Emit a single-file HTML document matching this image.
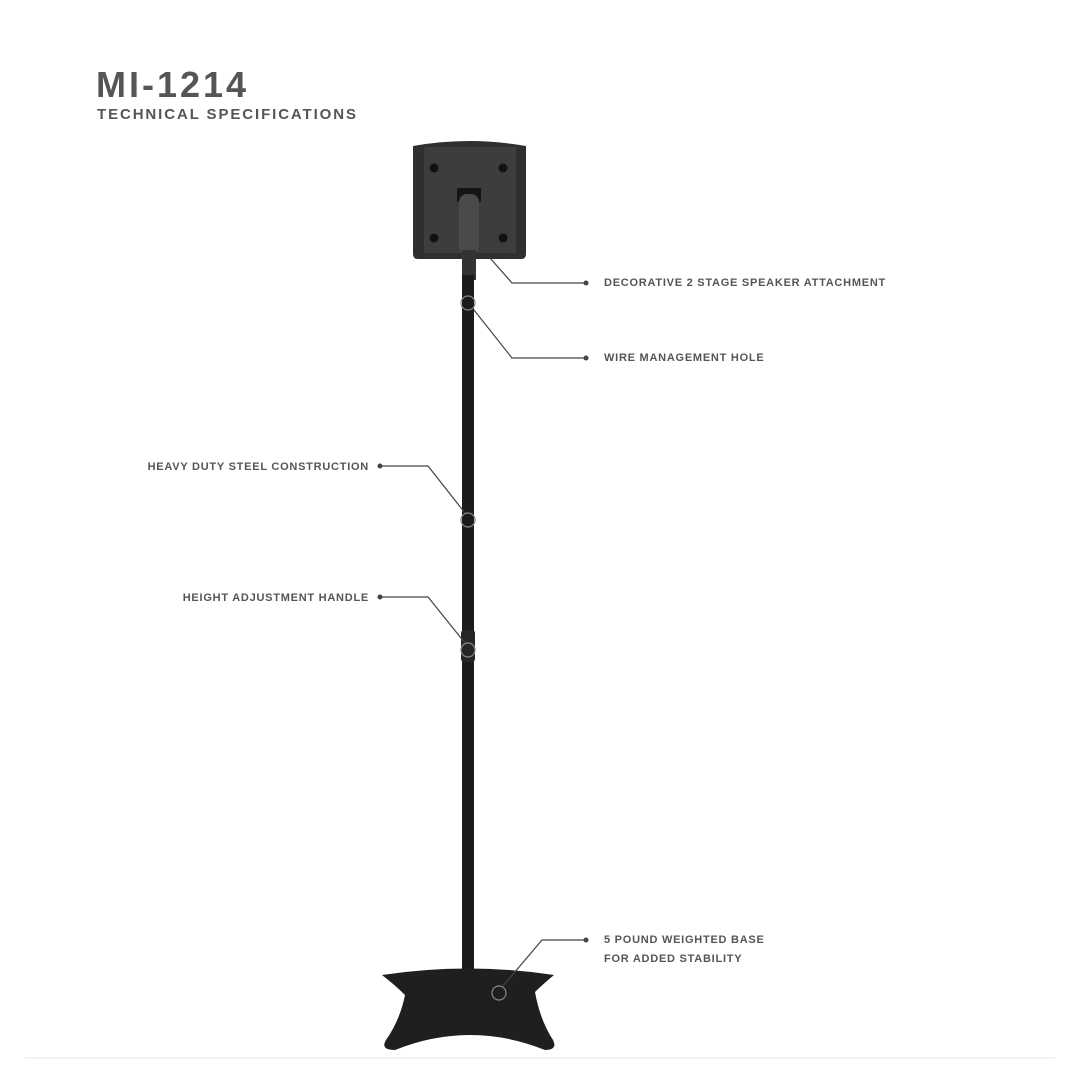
<!DOCTYPE html>
<html><head><meta charset="utf-8"><style>
html,body{margin:0;padding:0;background:#fff;width:1080px;height:1080px;overflow:hidden}
text{font-family:"Liberation Sans",sans-serif}
</style></head><body>
<svg width="1080" height="1080" viewBox="0 0 1080 1080" xmlns="http://www.w3.org/2000/svg">
<rect width="1080" height="1080" fill="#fff"/>
<line x1="25" y1="1058" x2="1055" y2="1058" stroke="#eee" stroke-width="1.5"/>
<text x="96" y="97" font-size="36" font-weight="bold" fill="#555" letter-spacing="3">MI-1214</text>
<text x="97" y="119" font-size="15" font-weight="bold" fill="#555" letter-spacing="1.9">TECHNICAL SPECIFICATIONS</text>

<!-- speaker -->
<path d="M413 146 Q469 136 526 146 L526 254 Q526 259 521 259 L418 259 Q413 259 413 254 Z" fill="#2f2f2f"/>
<rect x="424" y="147" width="92" height="106" fill="#3d3d3d"/>
<circle cx="434" cy="168" r="4.5" fill="#111"/>
<circle cx="503" cy="168" r="4.5" fill="#111"/>
<circle cx="434" cy="238" r="4.5" fill="#111"/>
<circle cx="503" cy="238" r="4.5" fill="#111"/>
<rect x="457" y="188" width="24" height="14" fill="#151515"/>
<rect x="459" y="194" width="20" height="60" rx="8" fill="#4a4a4a"/>
<rect x="462" y="250" width="14" height="30" fill="#333"/>

<!-- pole -->
<rect x="462" y="275" width="12" height="720" fill="#1b1b1b"/>
<rect x="461" y="630" width="14" height="32" rx="3" fill="#262626"/>
<!-- base -->
<path d="M382 975 Q468 962 554 975 Q542 985 535 992 Q540 1020 553 1040 Q558 1050 545 1050 Q470 1020 395 1050 Q380 1050 386 1040 Q400 1020 405 995 Q395 985 382 975 Z" fill="#1f1f1f"/>

<g fill="none" stroke="#888" stroke-width="1.2">
<circle cx="468" cy="303" r="7"/>
<circle cx="468" cy="520" r="7"/>
<circle cx="468" cy="650" r="7"/>
<circle cx="499" cy="993" r="7"/>
</g>
<g fill="none" stroke="#444" stroke-width="1.2">
<polyline points="490,258 512,283 585,283"/>
<polyline points="474,310 512,358 585,358"/>
<polyline points="381,466 428,466 465,513"/>
<polyline points="381,597 428,597 465,643"/>
<polyline points="503,986 542,940 585,940"/>
</g>
<g fill="#444">
<circle cx="586" cy="283" r="2.5"/>
<circle cx="586" cy="358" r="2.5"/>
<circle cx="380" cy="466" r="2.5"/>
<circle cx="380" cy="597" r="2.5"/>
<circle cx="586" cy="940" r="2.5"/>
</g>
<g font-size="11" font-weight="bold" fill="#555" letter-spacing="0.75">
<text x="604" y="286">DECORATIVE 2 STAGE SPEAKER ATTACHMENT</text>
<text x="604" y="361">WIRE MANAGEMENT HOLE</text>
<text x="369" y="470" text-anchor="end">HEAVY DUTY STEEL CONSTRUCTION</text>
<text x="369" y="601" text-anchor="end">HEIGHT ADJUSTMENT HANDLE</text>
<text x="604" y="943">5 POUND WEIGHTED BASE</text>
<text x="604" y="962">FOR ADDED STABILITY</text>
</g>
</svg>
</body></html>
